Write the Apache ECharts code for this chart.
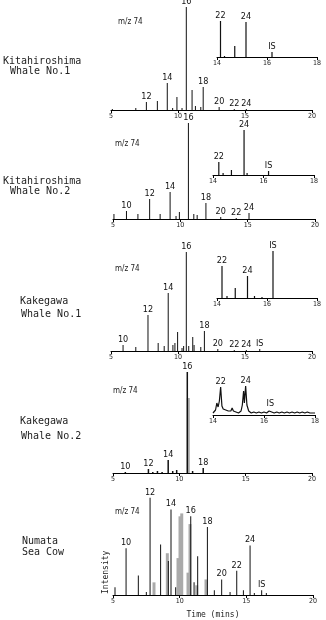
<!DOCTYPE html>
<html><head><meta charset="utf-8">
<script src="https://cdn.jsdelivr.net/npm/echarts@6/dist/echarts.min.js"></script>
<style>html,body{margin:0;padding:0;background:#fff}#c{width:326px;height:620px}</style>
</head><body><div id="c"></div>
<script>
// ---- data: [time (min), intensity, peak label] ----
const p1Main = [[5.1,1,''],[6.85,2,''],[7.64,8,'12'],[8.46,9,''],[9.2,27,'14'],[9.6,2,''],[9.92,13,''],[10.3,2,''],[10.62,103,'16'],[11.05,20,''],[11.3,4,''],[11.7,3,''],[11.88,23,'18'],[13.07,3,'20'],[14.2,1,'22'],[15.1,1,'24']];
const p1Inset = [[14.14,36,'22'],[14.3,1,''],[14.71,11,''],[15.16,35,'24'],[16.2,5,'IS']];
const p2Main = [[5.07,5,''],[6.0,8,'10'],[6.85,5,''],[7.72,20,'12'],[8.5,5,''],[9.24,27,'14'],[9.68,3,''],[9.93,7,''],[10.6,96,'16'],[11.0,5,''],[11.25,4,''],[11.9,16,'18'],[13.0,2,'20'],[14.15,1,'22'],[15.1,6,'24']];
const p2Inset = [[14.23,13,'22'],[14.4,2,''],[14.73,5,''],[15.23,45,'24'],[15.35,2,''],[16.2,4,'IS']];
const p3Main = [[5.9,6,'10'],[6.85,4,''],[7.76,36,'12'],[8.52,8,''],[8.97,5,''],[9.27,58,'14'],[9.62,6,''],[9.77,8,''],[9.97,19,''],[10.3,3,''],[10.42,5,''],[10.62,99,'16'],[10.8,5,''],[11.1,14,''],[11.2,6,''],[11.7,4,''],[11.97,20,'18'],[12.97,2,'20'],[14.2,1,'22'],[15.1,1,'24'],[16.1,2,'IS']];
const p3Inset = [[14.2,32,'22'],[14.4,2,''],[14.73,10,''],[15.22,22,'24'],[15.5,2,''],[15.8,1,''],[16.24,47,'IS']];
const p4Main = [[5.93,1,'10'],[7.67,4,'12'],[8.0,1,''],[8.35,2,''],[8.7,1,''],[9.16,13,'14'],[9.5,2,''],[9.8,3,''],[10.6,101,'16'],[11.0,2,''],[11.8,5,'18']];
const p4MainGray = [[10.62,75]];
const p4InsetTrace = [[14.0,2,''],[14.05,3,''],[14.1,5,''],[14.15,12,''],[14.2,8,''],[14.25,14,''],[14.3,28,'22'],[14.35,9,''],[14.4,6,''],[14.45,4,''],[14.5,5,''],[14.55,3,''],[14.6,4,''],[14.65,3,''],[14.7,4,''],[14.75,7,''],[14.8,4,''],[14.85,5,''],[14.9,3,''],[14.95,3,''],[15.0,2,''],[15.05,3,''],[15.1,4,''],[15.15,10,''],[15.2,24,''],[15.23,12,''],[15.28,29,'24'],[15.33,10,''],[15.4,4,''],[15.45,3,''],[15.5,2,''],[15.6,3,''],[15.7,2,''],[15.8,3,''],[15.9,2,''],[16.0,3,''],[16.1,2,''],[16.2,4,''],[16.25,6,'IS'],[16.3,3,''],[16.4,2,''],[16.5,3,''],[16.6,2,''],[16.7,3,''],[16.8,2,''],[16.9,3,''],[17.0,2,''],[17.1,3,''],[17.2,2,''],[17.3,3,''],[17.4,2,''],[17.5,3,''],[17.6,2,''],[17.7,3,''],[17.8,2,''],[17.9,2,''],[18.0,2,'']];
const p5Main = [[5.15,8,''],[5.98,48,'10'],[6.9,20,''],[7.5,3,''],[7.78,100,'12'],[8.57,52,''],[9.15,35,''],[9.35,88,'14'],[9.7,8,''],[10.83,81,'16'],[11.08,13,''],[11.35,40,''],[12.08,70,'18'],[12.6,5,''],[13.15,16,'20'],[13.78,3,''],[14.28,25,'22'],[14.78,5,''],[15.28,51,'24'],[15.6,2,''],[16.15,5,'IS'],[16.5,2,'']];
const p5MainGray = [[8.0,13],[9.0,43],[9.8,38],[9.95,81],[10.08,84],[10.55,23],[10.7,73],[11.2,10],[11.9,16]];
const mainTicks = [5, 10, 15, 20];
const insetTicks = [14, 16, 18];
const sampleNames = [['Kitahiroshima','Whale No.1'],['Kitahiroshima','Whale No.2'],['Kakegawa','Whale No.1'],['Kakegawa','Whale No.2'],['Numata','Sea Cow']];
const ionLabel = 'm/z 74';

// ---- layout ----
const MONO = "'DejaVu Sans Mono', monospace";
const NARROW = "'Liberation Sans Narrow','DejaVu Sans Condensed','Liberation Sans',sans-serif";
const MH = 105, IH = 50;
const mains = [{l:111,w:201,b:110},{l:113,w:202,b:219},{l:111,w:201,b:351},{l:113,w:199,b:473},{l:113,w:200,b:598}];
const insets = [{l:217,w:100,b:57},{l:213,w:101,b:175},{l:217,w:100,b:298},{l:213,w:102,b:415}];

const grids=[], xAxes=[], yAxes=[], series=[];
function addAxes(g, ticks, isMain, extra){
  const idx = grids.length;
  grids.push({left:g.l, width:g.w, top:g.b-(isMain?MH:IH), height:(isMain?MH:IH)});
  xAxes.push(Object.assign({gridIndex:idx,type:'value',min:ticks[0],max:ticks[ticks.length-1],interval:ticks[1]-ticks[0],
    axisLine:{lineStyle:{color:'#000',width:1}},axisTick:{length:3,lineStyle:{color:'#000'}},
    axisLabel:{fontSize:7,margin:3,color:'#222',fontFamily:NARROW},splitLine:{show:false}}, extra||{}));
  yAxes.push({gridIndex:idx,type:'value',min:0,max:isMain?MH:IH,show:false});
  return idx;
}
function items(arr){
  return arr.map(p=>({value:[p[0],p[1]],label:{show:!!p[2],formatter:p[2]||''}}));
}
function bars(idx, arr, color, w){
  series.push({type:'bar',xAxisIndex:idx,yAxisIndex:idx,barWidth:w,barGap:'-100%',
    itemStyle:{color:color},data:items(arr),
    label:{position:'top',distance:1,fontSize:9,color:'#111',fontFamily:NARROW},silent:true});
}
function grayBars(idx, arr, w){
  series.push({type:'bar',xAxisIndex:idx,yAxisIndex:idx,barWidth:w,barGap:'-100%',
    itemStyle:{color:'#aaa'},data:arr.map(p=>[p[0],p[1]]),silent:true});
}
const mainData=[p1Main,p2Main,p3Main,p4Main,p5Main];
const insetData=[p1Inset,p2Inset,p3Inset];
mains.forEach((g,i)=>{
  const extra = i===4 ? {name:'Time (mins)',nameLocation:'middle',nameGap:16,nameTextStyle:{fontSize:8,fontFamily:MONO,color:'#222'}} : {};
  const idx = addAxes(g, mainTicks, true, extra);
  if(i===3) grayBars(idx,p4MainGray,3);
  if(i===4) grayBars(idx,p5MainGray,3);
  bars(idx, mainData[i], '#111', i===3?1.5:1);
});
insets.forEach((g,i)=>{
  const idx = addAxes(g, insetTicks, false);
  if(i<3) bars(idx, insetData[i], '#111', 1.2);
  else series.push({type:'line',xAxisIndex:idx,yAxisIndex:idx,symbol:'circle',symbolSize:0,showSymbol:true,
    lineStyle:{color:'#111',width:1.2},itemStyle:{color:'#111'},data:items(p4InsetTrace),
    label:{position:'top',distance:1,fontSize:9,color:'#111',fontFamily:NARROW},silent:true});
});

const nameLayout=[[{x:3,y:62},{x:10,y:72}],[{x:3,y:182},{x:10,y:192}],[{x:20,y:302},{x:21,y:315}],[{x:20,y:422},{x:21,y:437}],[{x:22,y:542},{x:22,y:553}]];
const ionPos=[{x:118,y:23},{x:115,y:145},{x:115,y:270},{x:113,y:392},{x:115,y:513}];
const graphic=[];
sampleNames.forEach((nm,i)=>{
  nm.forEach((t,j)=>graphic.push({type:'text',left:nameLayout[i][j].x,top:nameLayout[i][j].y-6,
    style:{text:t,font:"10px "+MONO,fill:'#222'}}));
  graphic.push({type:'text',left:ionPos[i].x,top:ionPos[i].y-5,style:{text:ionLabel,font:"8px "+NARROW,fill:'#222'}});
});
graphic.push({type:'text',x:102,y:594,rotation:Math.PI/2,style:{text:'Intensity',font:"8px "+MONO,fill:'#222'}});

const chart = echarts.init(document.getElementById('c'),null,{renderer:'canvas'});
chart.setOption({animation:false,backgroundColor:'#fff',grid:grids,xAxis:xAxes,yAxis:yAxes,series:series,graphic:graphic});
</script></body></html>
